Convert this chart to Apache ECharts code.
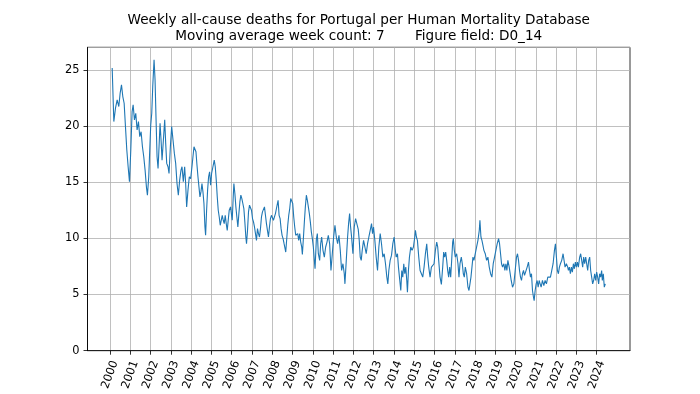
<!DOCTYPE html>
<html>
<head>
<meta charset="utf-8">
<script src="https://cdn.jsdelivr.net/npm/echarts@6/dist/echarts.min.js"></script>
<style>
html,body{margin:0;padding:0;background:#fff;}
#chart{width:700px;height:394px;}
</style>
</head>
<body>
<div id="chart"></div>
<script>
// x positions (decimal year) of the plotted points
var weekPos = [
2000.107,2000.188,2000.27,2000.353,2000.434,2000.5,2000.566,2000.631,2000.697,2000.762,2000.828,2000.894,2000.959,
2001.025,2001.09,2001.14,2001.205,2001.27,2001.336,2001.402,2001.467,2001.533,2001.599,2001.664,2001.73,2001.795,2001.845,
2001.91,2001.959,2002.008,2002.058,2002.107,2002.172,2002.221,2002.271,2002.32,2002.369,2002.418,2002.468,2002.517,2002.566,
2002.632,2002.697,2002.746,2002.796,2002.861,2002.91,2002.976,2003.041,2003.107,2003.173,2003.238,2003.304,2003.369,2003.435,
2003.5,2003.55,2003.615,2003.681,2003.73,2003.779,2003.845,2003.91,2003.976,
2004.041,2004.09,2004.14,2004.189,2004.238,2004.288,2004.337,2004.386,2004.435,2004.484,2004.534,2004.583,2004.632,2004.681,
2004.714,2004.763,2004.812,2004.861,2004.911,2004.96,2005.009,2005.075,2005.14,2005.19,2005.239,2005.288,2005.337,2005.386,
2005.435,2005.484,2005.534,2005.583,2005.632,2005.681,2005.731,2005.78,2005.829,2005.878,2005.943,
2006.026,2006.075,2006.108,2006.157,2006.206,2006.255,2006.304,2006.354,2006.403,2006.452,2006.501,2006.55,2006.6,2006.649,
2006.698,2006.731,2006.78,2006.829,2006.878,2006.927,2006.976,2007.026,2007.075,2007.124,2007.173,2007.222,2007.272,2007.321,
2007.37,2007.419,2007.468,2007.518,2007.567,2007.616,2007.665,2007.714,2007.763,2007.813,2007.862,2007.911,2007.96,2008.009,2008.058,
2008.108,2008.157,2008.206,2008.255,2008.288,2008.337,2008.387,2008.436,2008.485,2008.534,2008.583,2008.632,2008.665,2008.714,
2008.764,2008.813,2008.862,2008.911,2008.96,2009.009,2009.059,2009.108,2009.157,2009.206,2009.256,2009.305,2009.354,2009.403,
2009.452,2009.485,2009.534,2009.583,2009.632,2009.682,2009.731,2009.78,2009.829,2009.878,2009.928,2009.977,2010.026,2010.075,
2010.11,2010.174,
2010.223,2010.272,2010.338,2010.387,2010.436,2010.502,2010.568,2010.633,2010.699,2010.764,2010.83,2010.862,2010.895,2010.961,
2011.026,2011.092,2011.157,2011.223,2011.289,2011.354,2011.42,2011.486,2011.551,2011.584,2011.65,2011.715,2011.764,2011.814,
2011.863,2011.912,2011.978,2012.043,2012.109,2012.174,2012.24,
2012.289,2012.338,2012.387,2012.436,2012.502,2012.568,2012.633,2012.699,2012.764,2012.83,2012.896,2012.945,2012.994,2013.059,
2013.125,2013.191,2013.256,2013.322,2013.387,2013.453,2013.519,2013.584,2013.65,2013.699,2013.748,2013.814,2013.88,2013.945,
2014.01,2014.06,2014.109,2014.174,2014.223,2014.272,
2014.338,2014.387,2014.436,2014.485,2014.535,2014.584,2014.633,2014.666,2014.715,2014.764,2014.83,2014.896,2014.961,2015.027,
2015.06,2015.109,2015.158,2015.224,2015.289,2015.355,2015.421,2015.486,2015.552,2015.617,2015.666,2015.716,2015.781,2015.847,
2015.912,2015.978,2016.043,2016.109,2016.158,2016.207,2016.273,2016.339,
2016.404,2016.453,2016.502,2016.552,2016.601,2016.65,2016.699,2016.748,2016.798,2016.847,2016.896,2016.929,2016.978,2017.027,
2017.093,2017.158,2017.207,2017.257,2017.322,2017.371,2017.421,2017.47,2017.519,2017.585,2017.65,2017.7,2017.749,2017.798,
2017.847,2017.896,2017.945,2018.011,2018.077,2018.142,2018.208,2018.24,2018.29,2018.339,2018.404,
2018.437,2018.503,2018.568,2018.634,2018.7,2018.765,2018.831,2018.896,2018.962,2019.027,2019.093,2019.159,2019.208,2019.257,
2019.306,2019.356,2019.421,2019.47,2019.52,2019.569,2019.618,2019.684,2019.733,2019.782,2019.848,2019.913,2019.979,2020.044,
2020.093,2020.143,2020.192,2020.241,2020.29,2020.339,2020.389,2020.438,2020.503,
2020.569,2020.635,2020.684,2020.733,2020.782,2020.832,2020.881,2020.914,2020.963,2021.012,2021.061,2021.111,2021.16,2021.209,
2021.258,2021.324,2021.39,2021.455,2021.52,2021.586,2021.652,2021.717,2021.783,2021.848,2021.914,2021.963,2022.012,2022.061,
2022.11,2022.159,2022.209,2022.274,2022.34,2022.389,2022.438,2022.504,2022.569,
2022.602,2022.651,2022.7,2022.75,2022.799,2022.848,2022.897,2022.946,2022.996,2023.045,2023.094,2023.159,2023.208,2023.258,
2023.307,2023.356,2023.405,2023.455,2023.504,2023.553,2023.602,2023.652,2023.701,2023.75,2023.799,2023.848,2023.898,2023.947,
2023.996,2024.045,2024.094,2024.143,2024.193,2024.242,2024.275,2024.324,2024.373,2024.422
];
// weekly all-cause deaths D0_14 (7-week moving average)
var deaths = [
25.15,20.39,21.58,22.32,21.73,22.92,23.66,22.62,22.02,19.94,17.86,16.37,15.03,
17.86,21.28,21.88,20.54,21.13,19.64,20.39,19.05,19.49,18.15,17.26,16.07,14.58,13.84,
15.48,17.86,20.09,21.13,23.51,25.89,24.11,20.54,17.26,16.22,18.15,20.24,18.75,16.96,
18.75,20.54,18.45,16.67,16.37,15.77,18.15,19.94,18.75,17.56,16.67,14.88,13.84,15.18,
16.07,16.37,15.03,16.37,14.88,12.8,14.29,15.48,15.3,
16.37,17.26,18.15,18.3,17.71,16.52,15.48,14.58,13.69,14.13,14.88,14.13,13.1,11.01,
10.27,12.5,14.29,15.48,15.92,14.73,15.77,16.37,16.96,16.37,15.18,13.69,12.5,11.9,
11.16,11.01,12.05,11.61,11.31,12.05,11.31,10.71,11.61,12.5,12.8,
11.61,13.69,14.88,13.99,12.8,11.9,11.01,12.2,13.24,13.84,13.54,13.1,12.65,11.46,
10.12,9.52,10.71,12.35,12.95,12.95,12.5,11.76,11.46,11.01,10.42,9.82,10.86,10.42,
10.12,10.86,11.9,12.35,12.5,12.8,12.05,11.31,10.71,10.12,11.01,11.76,12.05,12.2,11.61,
11.46,12.2,12.35,13.1,13.39,12.05,11.76,10.86,10.27,9.97,9.52,9.08,8.78,9.97,
11.16,12.05,12.65,13.54,13.69,13.1,11.9,11.01,10.27,10.12,10.42,9.82,10.42,9.67,
9.23,8.57,9.97,11.46,12.8,13.84,13.39,12.8,12.2,11.46,10.57,9.97,9.23,8.04,
7.3,9.9,
10.42,8.63,8.04,9.52,10.12,8.93,8.33,9.23,9.67,10.27,9.52,8.33,7.14,8.63,
10.12,11.16,10.12,9.52,10.27,8.93,7.14,7.74,6.85,5.95,8.04,10.12,11.31,12.2,
11.01,10.12,8.63,11.01,11.76,11.9,10.8,
9.82,8.33,8.04,8.93,9.82,9.23,8.63,9.52,10.12,10.71,11.31,10.42,11.01,9.82,
8.33,7.14,9.23,10.42,9.52,8.33,8.63,7.74,6.55,5.95,7.14,8.04,8.48,9.52,
10.12,9.08,8.33,8.63,7.44,6.55,
5.36,7.14,6.55,7.74,6.85,7.44,6.25,5.21,7.14,8.33,9.23,8.93,9.23,10.12,
10.71,10.12,9.82,8.33,7.14,6.85,6.55,7.44,8.63,9.52,8.33,7.44,6.55,7.44,
7.29,7.74,8.93,9.67,9.23,8.04,6.55,5.9,
7.44,8.78,8.33,8.78,8.04,7.14,6.55,7.44,6.55,8.04,9.67,9.97,8.93,8.33,
8.63,7.74,6.55,7.74,8.33,7.74,6.85,6.55,7.44,6.85,5.65,5.36,5.95,6.55,
7.44,8.33,8.04,8.63,9.23,9.82,10.71,11.61,10.12,9.82,9.23,
8.93,8.63,8.04,8.33,7.44,6.85,6.55,7.74,8.33,8.93,9.52,9.97,9.52,8.63,
7.74,7.44,7.74,7.14,7.74,7.14,8.04,7.44,6.85,6.25,5.65,5.95,7.14,8.33,
8.63,8.04,7.14,6.55,6.25,6.85,7.14,6.7,6.6,
7.44,7.89,7.14,6.55,6.85,5.36,4.76,4.46,5.36,5.95,6.25,5.65,6.25,5.95,
5.65,6.25,5.8,6.25,5.95,6.55,6.4,6.55,7.14,7.74,8.93,9.52,8.33,7.14,
6.85,7.44,7.74,8.04,8.63,8.04,7.44,7.74,7.44,
7.14,7.44,6.85,7.44,6.99,7.74,7.29,7.89,7.44,7.89,7.44,8.33,8.63,8.04,
7.44,8.33,7.74,8.33,7.74,7.14,8.04,8.33,7.14,6.55,5.95,6.25,6.85,6.25,
6.99,6.55,5.95,6.85,6.55,7.14,6.25,6.85,5.65,5.95
];
var yearTicks = [2000,2001,2002,2003,2004,2005,2006,2007,2008,2009,2010,2011,2012,2013,2014,2015,2016,2017,2018,2019,2020,2021,2022,2023,2024];
var titleLine1 = 'Weekly all-cause deaths for Portugal per Human Mortality Database';
var titleLine2 = 'Moving average week count: 7       Figure field: D0_14';

var seriesData = weekPos.map(function (x, i) { return [x, deaths[i]]; });

var chart = echarts.init(document.getElementById('chart'), null, {renderer: 'canvas'});
var font = 'DejaVu Sans';
chart.setOption({
  animation: false,
  backgroundColor: '#ffffff',
  grid: {left: 87.5, right: 70, top: 47.3, bottom: 43.3, show: true, borderColor: '#000', borderWidth: 0.8, backgroundColor: 'transparent'},
  graphic: [
    {type: 'text', x: 358.75, y: 20, style: {text: titleLine1, textAlign: 'center', textVerticalAlign: 'middle', fontFamily: font, fontSize: 13.6, fill: '#000'}},
    {type: 'text', x: 358.75, y: 36, style: {text: titleLine2, textAlign: 'center', textVerticalAlign: 'middle', fontFamily: font, fontSize: 13.6, fill: '#000'}}
  ],
  xAxis: {
    type: 'value', min: 1998.89, max: 2025.64,
    axisLine: {show: true, onZero: false, lineStyle: {color: '#000', width: 0.8}},
    axisTick: {show: true, inside: false, length: 4, customValues: yearTicks, lineStyle: {color: '#000', width: 0.8}},
    axisLabel: {customValues: yearTicks, rotate: 70, align: 'center', verticalAlign: 'middle', margin: 24,
      fontFamily: font, fontSize: 11.4, color: '#000', formatter: function (v) { return String(Math.round(v)); }},
    splitLine: {show: true, lineStyle: {color: '#b0b0b0', width: 0.8}}
  },
  yAxis: {
    type: 'value', min: 0, max: 27, interval: 5,
    axisLine: {show: true, onZero: false, lineStyle: {color: '#000', width: 0.8}},
    axisTick: {show: true, inside: false, length: 4, lineStyle: {color: '#000', width: 0.8}},
    axisLabel: {showMaxLabel: false, margin: 8, fontFamily: font, fontSize: 11.4, color: '#000'},
    splitLine: {show: true, lineStyle: {color: '#b0b0b0', width: 0.8}}
  },
  series: [{
    type: 'line', data: seriesData, showSymbol: false, symbol: 'none',
    lineStyle: {color: '#1f77b4', width: 1.1}, itemStyle: {color: '#1f77b4'}
  }]
});
</script>
</body>
</html>
